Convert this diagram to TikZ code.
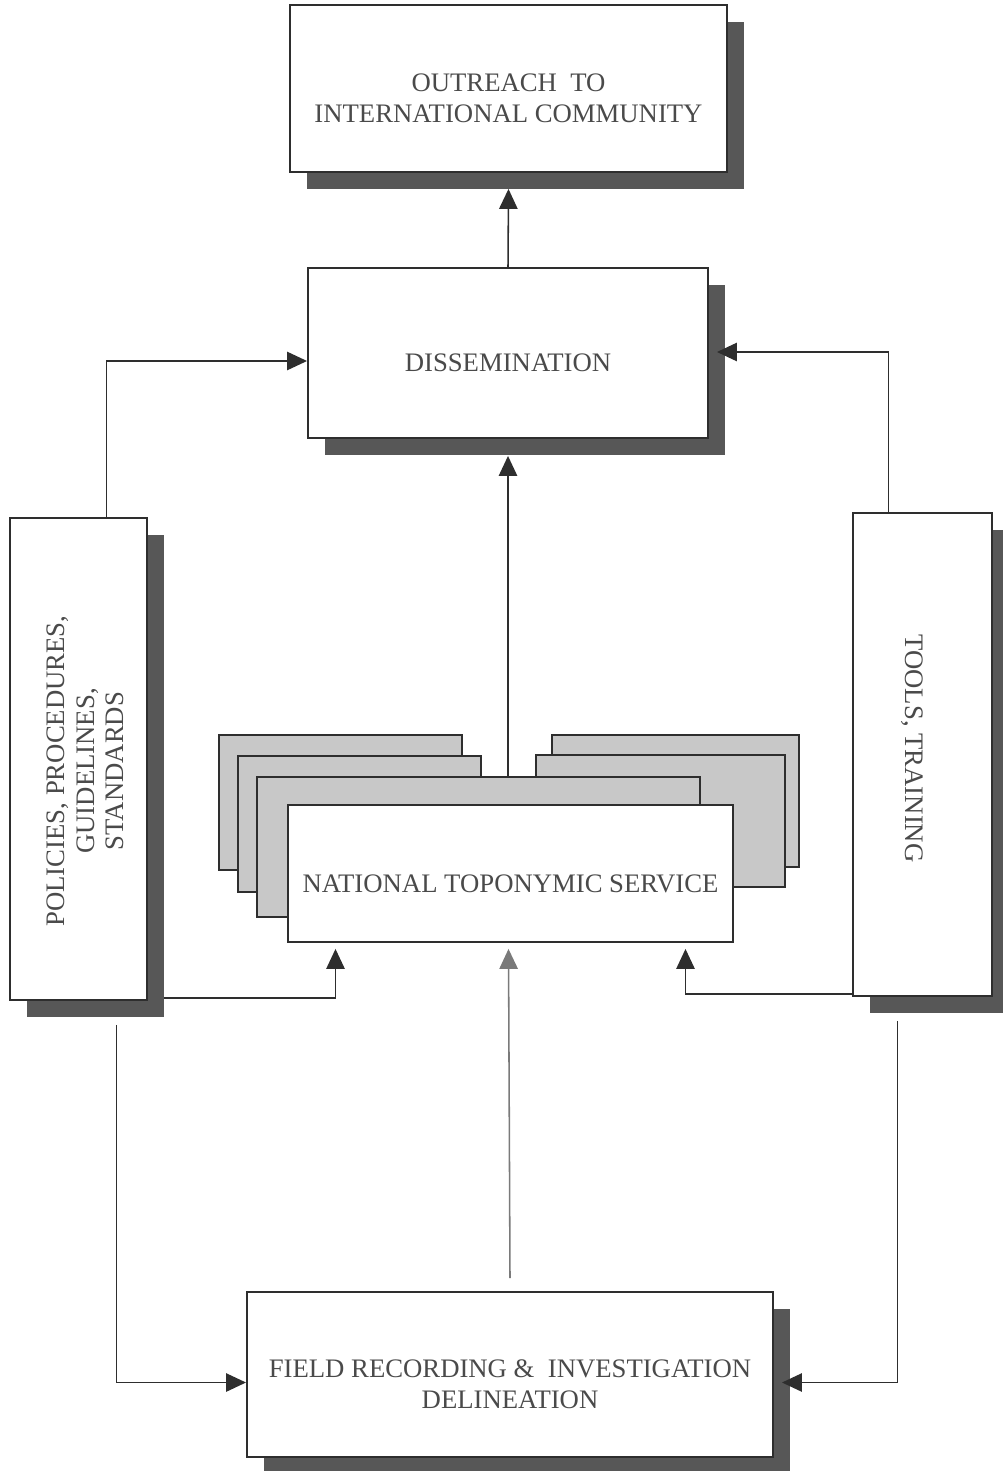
\documentclass[tikz,border=0pt]{standalone}
\usepackage{fontspec}
\setmainfont{Liberation Serif}
\usepackage{graphicx}
\usetikzlibrary{arrows.meta,calc,shadows}

\definecolor{inkgray}{HTML}{4A4A4A}
\definecolor{framegray}{HTML}{2E2E2E}
\definecolor{shadegray}{HTML}{575757}
\definecolor{sheetgray}{HTML}{C8C8C8}
\definecolor{feedgray}{HTML}{7A7A7A}

\begin{document}
\begin{tikzpicture}[
                x=0.025cm, y=-0.025cm,
                every node/.style={font=\fontsize{19}{22}\selectfont, text=inkgray, align=center, inner sep=0pt},
                frame/.style={draw=framegray, line width=1.3pt, fill=white},
                block/.style={frame, drop shadow={shadow xshift=0.42cm, shadow yshift=-0.42cm, opacity=1, fill=shadegray}},
                drop/.style={execute at begin node={\rule{0pt}{#1}}},
                sheet/.style={draw=framegray, line width=1.1pt, fill=sheetgray},
                link/.style={draw=framegray, line width=1.1pt, -{Triangle[length=0.5cm, width=0.46cm]}}
            ]

            \useasboundingbox (0,0) rectangle (1003,1471);

            % boxes
            \node[block, drop=48.8pt, minimum width=10.925cm, minimum height=4.175cm] (outreach) at (508.5,88.5)
                {OUTREACH\ \ TO\\INTERNATIONAL COMMUNITY};
            \node[block, drop=26.8pt, minimum width=10cm, minimum height=4.25cm] (dissem) at (508,353) {DISSEMINATION};
            \node[block, minimum width=3.425cm, minimum height=12.05cm] (policies) at (78.5,759)
                {\hspace{0.5cm}\rotatebox{90}{\renewcommand{\arraystretch}{0.95}%
                 \begin{tabular}{@{}c@{}}POLICIES, PROCEDURES,\\GUIDELINES,\\STANDARDS\end{tabular}\hspace{0.6cm}}};
            \node[block, minimum width=3.475cm, minimum height=12.075cm] (tools) at (922.5,754.5)
                {\rotatebox{-90}{TOOLS, TRAINING\hspace{0.3cm}}\hspace{0.5cm}};

            % stacked sheets behind the service
            \draw[sheet] (219,735) rectangle (462,870);
            \draw[sheet] (552,735) rectangle (799,867);
            \draw[sheet] (238,756) rectangle (481,892);
            \draw[sheet] (536,755) rectangle (785,887);
            \draw[sheet] (257,777) rectangle (700,917);
            \coordinate (stacktop) at (508,777);

            \node[frame, drop=26.8pt, minimum width=11.125cm, minimum height=3.425cm] (nts) at (510.5,873.5)
                {NATIONAL TOPONYMIC SERVICE};
            \node[block, drop=48.8pt, minimum width=13.15cm, minimum height=4.125cm] (field) at (510,1374.5)
                {FIELD RECORDING \&\ \ INVESTIGATION\\DELINEATION};

            % connectors
            \draw[link] (dissem.north) -- ($(outreach.south)+(0,16)$);
            \draw[link] ($(policies.north)+(28,0)$) |- ($(dissem.west)+(0,8)$);
            \draw[link] ($(tools.north)+(-34,0)$) |- ($(dissem.east)+(8,-1)$);
            \draw[link] (stacktop) -- ($(dissem.south)+(0,17)$);
            \draw[link] ($(policies.south east)+(16,-3)$) -| ($(nts.south)+(-175,6)$);
            \draw[link] ($(tools.south west)+(0,-3)$) -| ($(nts.south)+(175,6)$);
            \draw[link, draw=feedgray] ($(field.north)+(0,-13)$) -- ($(nts.south)+(-2,6)$);
            \draw[link] ($(policies.south)+(38,24)$) |- ($(field.west)+(0,8)$);
            \draw[link] ($(tools.south)+(-25,24)$) |- ($(field.east)+(8,8)$);

        \end{tikzpicture}
\end{document}
